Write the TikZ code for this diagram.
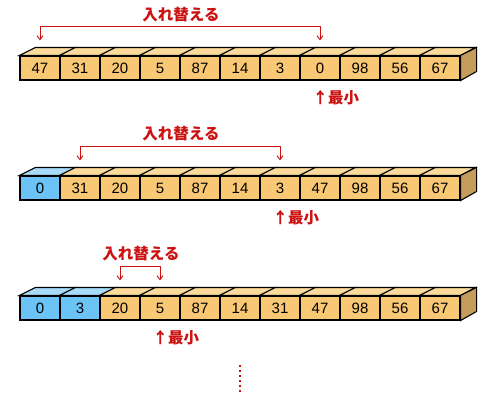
\documentclass[tikz,border=0pt]{standalone}
\usepackage{fontspec}
\setmainfont{Liberation Sans}
\newfontfamily\jpfont{Noto Sans CJK JP}
\usepackage{tikz}
\usetikzlibrary{calc}
\usetikzlibrary{arrows.meta}
\definecolor{org}{HTML}{F9C874}
\definecolor{orgtop}{HTML}{FBDA9C}
\definecolor{orgside}{HTML}{C49C5C}
\definecolor{blu}{HTML}{6CC3F5}
\definecolor{blutop}{HTML}{A8DBF9}
\definecolor{redmark}{HTML}{CC1111}
\tikzset{
  cell/.style={draw, line width=1.1pt, minimum width=40pt, minimum height=24pt, inner sep=0pt, font=\fontsize{15pt}{17pt}\selectfont},
  swapline/.style={draw=redmark, line width=0.9pt, {Straight Barb[length=4pt,width=6pt]}-{Straight Barb[length=4pt,width=6pt]}},
  swaplab/.style={text=redmark, font=\jpfont\bfseries\fontsize{15.5pt}{17pt}\selectfont, inner sep=0pt},
  minlab/.style={text=redmark, font=\jpfont\bfseries\fontsize{15.5pt}{17pt}\selectfont, inner sep=0pt, anchor=west}
}
\newcommand{\cellbox}[5]{\node[cell, fill=#5] (#1) at (#2,#3) {#4}; \filldraw[line width=1.1pt, fill=#5top] (#1.north west) -- ++(16,-8) -- ++(40,0) -- (#1.north east) -- cycle;}
\newcommand{\sideface}[1]{\filldraw[line width=1.1pt, fill=orgside] (#1.north east) -- ++(16,-8) -- ++(0,24) -- (#1.south east) -- cycle;}

\begin{document}
\begin{tikzpicture}[x=1pt, y=-1pt]
        \useasboundingbox (0,0) rectangle (500,400);
        % row 1
        \cellbox{r1c0}{40}{68}{47}{org}
        \cellbox{r1c1}{80}{68}{31}{org}
        \cellbox{r1c2}{120}{68}{20}{org}
        \cellbox{r1c3}{160}{68}{5}{org}
        \cellbox{r1c4}{200}{68}{87}{org}
        \cellbox{r1c5}{240}{68}{14}{org}
        \cellbox{r1c6}{280}{68}{3}{org}
        \cellbox{r1c7}{320}{68}{0}{org}
        \cellbox{r1c8}{360}{68}{98}{org}
        \cellbox{r1c9}{400}{68}{56}{org}
        \cellbox{r1c10}{440}{68}{67}{org}
        \sideface{r1c10}
        \node[swaplab] (sw1) at (181,15) {入れ替える};
        \draw[swapline] ([yshift=15pt]r1c0.north) -- ++(0,-14) -| ([yshift=15pt]r1c7.north);
        \node[minlab] (min1) at ([xshift=-7.5pt,yshift=-17pt]r1c7.south) {↑最小};
        % row 2
        \cellbox{r2c0}{40}{188}{0}{blu}
        \cellbox{r2c1}{80}{188}{31}{org}
        \cellbox{r2c2}{120}{188}{20}{org}
        \cellbox{r2c3}{160}{188}{5}{org}
        \cellbox{r2c4}{200}{188}{87}{org}
        \cellbox{r2c5}{240}{188}{14}{org}
        \cellbox{r2c6}{280}{188}{3}{org}
        \cellbox{r2c7}{320}{188}{47}{org}
        \cellbox{r2c8}{360}{188}{98}{org}
        \cellbox{r2c9}{400}{188}{56}{org}
        \cellbox{r2c10}{440}{188}{67}{org}
        \sideface{r2c10}
        \node[swaplab] (sw2) at (181,134) {入れ替える};
        \draw[swapline] ([yshift=15pt]r2c1.north) -- ++(0,-14) -| ([yshift=15pt]r2c6.north);
        \node[minlab] (min2) at ([xshift=-7.5pt,yshift=-17pt]r2c6.south) {↑最小};
        % row 3
        \cellbox{r3c0}{40}{308}{0}{blu}
        \cellbox{r3c1}{80}{308}{3}{blu}
        \cellbox{r3c2}{120}{308}{20}{org}
        \cellbox{r3c3}{160}{308}{5}{org}
        \cellbox{r3c4}{200}{308}{87}{org}
        \cellbox{r3c5}{240}{308}{14}{org}
        \cellbox{r3c6}{280}{308}{31}{org}
        \cellbox{r3c7}{320}{308}{47}{org}
        \cellbox{r3c8}{360}{308}{98}{org}
        \cellbox{r3c9}{400}{308}{56}{org}
        \cellbox{r3c10}{440}{308}{67}{org}
        \sideface{r3c10}
        \node[swaplab] (sw3) at (141,254) {入れ替える};
        \draw[swapline] ([yshift=15pt]r3c2.north) -- ++(0,-14) -| ([yshift=15pt]r3c3.north);
        \node[minlab] (min3) at ([xshift=-7.5pt,yshift=-17pt]r3c3.south) {↑最小};
        % more steps
        \coordinate (dtop) at (240,365);
        \coordinate (dbot) at (240,392);
        \draw[redmark, line width=2pt, dash pattern=on 2pt off 3pt] (dtop) -- (dbot);
    \end{tikzpicture}
\end{document}
